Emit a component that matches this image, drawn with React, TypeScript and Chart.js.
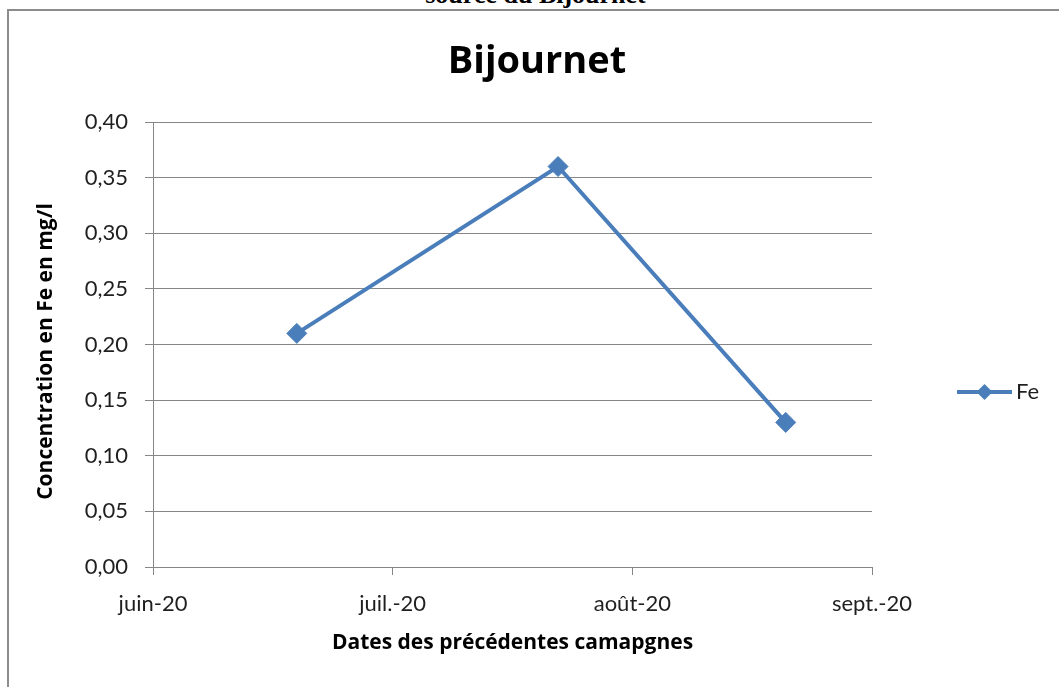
import React, { useEffect, useRef } from "react";
import { Chart, registerables } from "chart.js";

Chart.register(...registerables);

// Position of each campaign in months counted from 1 June 2020 (juin-20 = 0)
const campaignMonthPos = [0.6, 1.69, 2.64];
const feValues = [0.21, 0.36, 0.13];
const monthTickPos = [0, 1, 2, 3];
const monthTickLabels = ["juin-20", "juil.-20", "août-20", "sept.-20"];
const seriesLabel = "Fe";
const chartTitle = "Bijournet";
const xTitle = "Dates des précédentes camapgnes";
const yTitle = "Concentration en Fe en mg/l";
const headerText = "source du Bijournet";

const FONT = "Lato, 'Open Sans', sans-serif";
const BOLD_FONT = "'Open Sans', Lato, sans-serif";
const BLUE = "#4a7ebb";
const GRID = "#868686";

export default function App() {
  const ref = useRef<HTMLCanvasElement>(null);

  useEffect(() => {
    document.documentElement.style.overflow = "hidden";
    document.body.style.overflow = "hidden";
    if (!ref.current) return;

    const textPlugin = {
      id: "customTexts",
      afterDraw(chart: any) {
        const ctx = chart.ctx;
        const a = chart.chartArea;
        ctx.save();
        // chart title
        ctx.font = `bold 38px ${BOLD_FONT}`;
        ctx.fillStyle = "#000";
        ctx.textAlign = "center";
        ctx.textBaseline = "middle";
        ctx.fillText(chartTitle, 537, 62);
        // y axis title
        ctx.save();
        ctx.translate(46, (a.top + a.bottom) / 2 + 7);
        ctx.rotate(-Math.PI / 2);
        ctx.font = `bold 21px ${BOLD_FONT}`;
        ctx.fillText(yTitle, 0, 0);
        ctx.restore();
        ctx.restore();
      },
    };

    const legendPlugin = {
      id: "lineLegend",
      afterDraw(chart: any) {
        const ctx = chart.ctx;
        const a = chart.chartArea;
        const x0 = a.right + 85;
        const x1 = x0 + 55;
        const y = a.top + 270;
        ctx.save();
        ctx.strokeStyle = BLUE;
        ctx.lineWidth = 4;
        ctx.beginPath();
        ctx.moveTo(x0, y);
        ctx.lineTo(x1, y);
        ctx.stroke();
        const cx = (x0 + x1) / 2;
        const r = 8;
        ctx.fillStyle = BLUE;
        ctx.beginPath();
        ctx.moveTo(cx, y - r);
        ctx.lineTo(cx + r, y);
        ctx.lineTo(cx, y + r);
        ctx.lineTo(cx - r, y);
        ctx.closePath();
        ctx.fill();
        ctx.font = `22px ${FONT}`;
        ctx.fillStyle = "#1f1f1f";
        ctx.textAlign = "left";
        ctx.textBaseline = "middle";
        ctx.fillText(seriesLabel, x1 + 4, y);
        ctx.restore();
      },
    };

    const chart = new Chart(ref.current, {
      type: "line",
      data: {
        datasets: [
          {
            label: seriesLabel,
            data: campaignMonthPos.map((m, i) => ({ x: m, y: feValues[i] })),
            borderColor: BLUE,
            backgroundColor: BLUE,
            borderWidth: 4,
            pointStyle: "rectRot",
            pointRadius: 10,
            pointBorderWidth: 1,
            pointBackgroundColor: BLUE,
            pointBorderColor: BLUE,
            tension: 0,
          },
        ],
      },
      options: {
        animation: false,
        responsive: false,
        devicePixelRatio: 1,
        layout: { padding: { left: 0, top: 122, right: 187, bottom: 0 } },
        plugins: {
          legend: { display: false },
          title: { display: false },
          tooltip: { enabled: false },
        },
        scales: {
          x: {
            type: "linear",
            min: monthTickPos[0],
            max: monthTickPos[monthTickPos.length - 1],
            afterBuildTicks: (scale: any) => {
              scale.ticks = monthTickPos.map((v) => ({ value: v }));
            },
            afterFit: (scale: any) => {
              scale.height = 120;
            },
            ticks: {
              autoSkip: false,
              maxRotation: 0,
              padding: 16,
              color: "#1f1f1f",
              font: { family: FONT, size: 22 },
              callback: (v: any) => {
                const i = monthTickPos.indexOf(Number(v));
                return i >= 0 ? monthTickLabels[i] : "";
              },
            },
            grid: {
              drawOnChartArea: false,
              drawTicks: true,
              tickLength: 8,
              color: GRID,
            },
            border: { display: true, color: GRID },
            title: {
              display: true,
              text: xTitle,
              color: "#000",
              font: { family: BOLD_FONT, size: 21, weight: "bold" },
              padding: { top: 0, bottom: 31 },
            },
          },
          y: {
            min: 0,
            max: 0.4,
            afterFit: (scale: any) => {
              scale.width = 153;
            },
            ticks: {
              stepSize: 0.05,
              padding: 17,
              color: "#1f1f1f",
              font: { family: FONT, size: 22 },
              callback: (v: any) => Number(v).toFixed(2).replace(".", ","),
            },
            grid: {
              drawTicks: true,
              tickLength: 8,
              color: GRID,
            },
            border: { display: true, color: GRID },
            title: { display: false },
          },
        },
      },
      plugins: [textPlugin, legendPlugin],
    } as any);

    return () => chart.destroy();
  }, []);

  return (
    <div
      style={{
        position: "fixed",
        left: 0,
        top: 0,
        width: 1059,
        height: 687,
        overflow: "hidden",
        background: "#fff",
      }}
    >
      <div
        style={{
          position: "absolute",
          left: 0,
          top: -18,
          width: 1071,
          textAlign: "center",
          font: "bold 26px 'Liberation Serif', serif",
          lineHeight: "26px",
          color: "#000",
          whiteSpace: "nowrap",
        }}
      >
        {headerText}
      </div>
      <div
        style={{
          position: "absolute",
          left: 7,
          top: 9,
          width: 1100,
          height: 800,
          border: "2px solid #8c8c8c",
        }}
      />
      <canvas
        ref={ref}
        width={1059}
        height={687}
        style={{ position: "absolute", left: 0, top: 0, width: 1059, height: 687, display: "block" }}
      />
    </div>
  );
}
